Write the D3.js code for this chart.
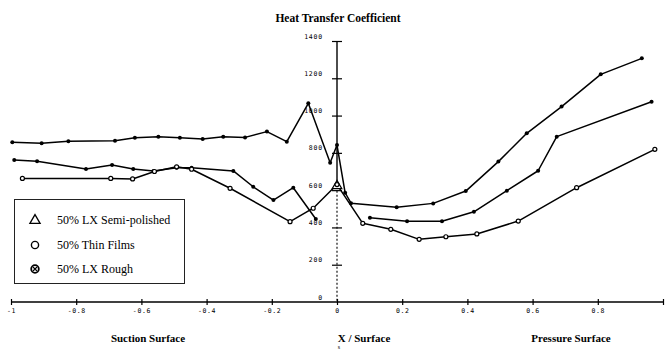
<!DOCTYPE html>
<html>
<head>
<meta charset="utf-8">
<script src="https://cdn.jsdelivr.net/npm/d3@7"></script>
<style>
  html, body { margin: 0; padding: 0; background: #fff; }
  svg { display: block; }
</style>
</head>
<body>
<svg id="chart" width="667" height="349"></svg>
<script>
// X / Surface positions (suction side negative, pressure side positive) and heat transfer coefficients
const roughX = [-0.996, -0.906, -0.824, -0.681, -0.620, -0.548, -0.482, -0.412, -0.349, -0.282, -0.215, -0.154, -0.088, -0.021, 0.0, 0.025, 0.043, 0.183, 0.295, 0.395, 0.495, 0.582, 0.689, 0.809, 0.935];
const roughV = [857, 851, 862, 865, 881, 887, 881, 874, 887, 883, 914, 860, 1066, 747, 842, 586, 530, 508, 529, 595, 753, 905, 1048, 1221, 1307];

// null entries break the line (no data around the leading edge)
const semiX = [-0.99, -0.92, -0.77, -0.69, -0.625, -0.563, -0.492, -0.446, -0.318, -0.257, -0.195, -0.134, -0.065, -0.03, 0.0, 0.05, 0.101, 0.215, 0.322, 0.420, 0.521, 0.617, 0.674, 0.965];
const semiV = [762, 755, 713, 735, 713, 703, 720, 720, 703, 618, 547, 613, 445, null, 628, null, 452, 433, 433, 484, 597, 704, 887, 1074];

const filmX = [-0.965, -0.694, -0.627, -0.56, -0.492, -0.446, -0.328, -0.144, -0.073, 0.0, 0.079, 0.165, 0.252, 0.334, 0.429, 0.556, 0.735, 0.975];
const filmV = [663, 663, 660, 700, 725, 712, 610, 431, 503, 630, 422, 390, 336, 350, 365, 434, 613, 819];

const xTicks = [-1, -0.8, -0.6, -0.4, -0.2, 0, 0.2, 0.4, 0.6, 0.8, 1];
const xTickLabels = ["-1", "-0.8", "-0.6", "-0.4", "-0.2", "0", "0.2", "0.4", "0.6", "0.8", ""];
const yTicks = [0, 200, 400, 600, 800, 1000, 1200, 1400];

const legendLabels = ["50% LX Semi-polished", "50% Thin Films", "50% LX Rough"];

const svg = d3.select("#chart");
const x = d3.scaleLinear().domain([-1, 1]).range([11, 663]);
const y = d3.scaleLinear().domain([0, 1400]).range([302, 41]);

const serif = "'Liberation Serif', 'Times New Roman', serif";
const small = "'DejaVu Sans Mono', 'Liberation Mono', monospace";

// title
svg.append("text")
  .attr("x", 338).attr("y", 22)
  .attr("text-anchor", "middle")
  .attr("font-family", serif).attr("font-weight", "bold").attr("font-size", 11.5)
  .text("Heat Transfer Coefficient");

// x axis
const xAxis = svg.append("g")
  .attr("transform", `translate(0,${y(0)})`)
  .call(d3.axisBottom(x).tickValues(xTicks).tickSize(3)
    .tickFormat((d, i) => xTickLabels[i]));
xAxis.select(".domain").remove();
xAxis.append("line").attr("x1", x(-1)).attr("x2", x(1)).attr("stroke", "#000").attr("stroke-width", 1.3);
xAxis.selectAll(".tick line").attr("y1", -3).attr("y2", 3).attr("stroke-width", 1.2);
xAxis.selectAll(".tick text")
  .attr("y", 11).attr("dy", null)
  .attr("font-family", small).attr("font-size", 6.5).attr("letter-spacing", 0.6)
  .attr("fill", "#000");

// y axis at X / Surface = 0
const yAxis = svg.append("g")
  .attr("transform", `translate(${x(0)},0)`)
  .call(d3.axisLeft(y).tickValues(yTicks).tickSize(5).tickFormat(d3.format("d")));
yAxis.select(".domain").remove();
yAxis.append("line").attr("y1", y(1400)).attr("y2", y(640)).attr("stroke", "#000").attr("stroke-width", 1.4);
yAxis.append("line").attr("y1", y(640)).attr("y2", y(0) + 1)
  .attr("stroke", "#000").attr("stroke-width", 1.1).attr("stroke-dasharray", "2,2");
yAxis.selectAll(".tick line").attr("x1", -5).attr("x2", 5).attr("stroke-width", 1.2)
  .filter(d => d === 0).remove();
yAxis.selectAll(".tick text")
  .attr("x", -14).attr("dy", null).attr("y", -3)
  .attr("font-family", small).attr("font-size", 6.5).attr("letter-spacing", 0.8)
  .attr("fill", "#000");

// data lines
const pts = (xs, vs) => xs.map((d, i) => ({ u: d, v: vs[i] }));
const line = d3.line().defined(d => d.v !== null).x(d => x(d.u)).y(d => y(d.v));

const series = [
  { data: pts(semiX, semiV), marker: "dot" },
  { data: pts(filmX, filmV), marker: "open" },
  { data: pts(roughX, roughV), marker: "dot" }
];

const plot = svg.append("g");
series.forEach(s => {
  plot.append("path").datum(s.data)
    .attr("d", line)
    .attr("fill", "none").attr("stroke", "#000").attr("stroke-width", 1.5)
    .attr("stroke-linejoin", "round");
});

// point markers
series.forEach((s, si) => {
  const valid = s.data.filter(d => d.v !== null);
  valid.forEach(d => {
    if (si === 0 && d.u === 0) {
      // semi-polished leading-edge point
      const cx = x(d.u), cy = y(d.v);
      plot.append("path")
        .attr("d", d3.symbol(d3.symbolTriangle, 40)())
        .attr("transform", `translate(${cx},${cy + 1})`)
        .attr("fill", "#fff").attr("stroke", "#000").attr("stroke-width", 1.2);
    } else if (s.marker === "open") {
      plot.append("circle").attr("cx", x(d.u)).attr("cy", y(d.v)).attr("r", 2)
        .attr("fill", "#fff").attr("stroke", "#000").attr("stroke-width", 1.2);
    } else {
      plot.append("circle").attr("cx", x(d.u)).attr("cy", y(d.v)).attr("r", 2)
        .attr("fill", "#000");
    }
  });
});

// legend
const lg = svg.append("g");
lg.append("rect").attr("x", 14.5).attr("y", 199.5).attr("width", 170).attr("height", 84)
  .attr("fill", "#fff").attr("stroke", "#222").attr("stroke-width", 1);
const rowY = [220, 245, 269];
legendLabels.forEach((t, i) => {
  lg.append("text").attr("x", 57).attr("y", rowY[i] + 4)
    .attr("font-family", serif).attr("font-size", 12).text(t);
});
lg.append("path").attr("d", d3.symbol(d3.symbolTriangle, 45)())
  .attr("transform", `translate(35,${rowY[0] + 0.5})`)
  .attr("fill", "none").attr("stroke", "#000").attr("stroke-width", 1.3);
lg.append("circle").attr("cx", 35).attr("cy", rowY[1]).attr("r", 3.6)
  .attr("fill", "none").attr("stroke", "#000").attr("stroke-width", 1.4);
lg.append("circle").attr("cx", 35).attr("cy", rowY[2]).attr("r", 3.8)
  .attr("fill", "none").attr("stroke", "#000").attr("stroke-width", 1.8);
lg.append("path").attr("d", `M33,${rowY[2] - 2}L37,${rowY[2] + 2}M37,${rowY[2] - 2}L33,${rowY[2] + 2}`)
  .attr("stroke", "#000").attr("stroke-width", 1.1);

// bottom captions
const cap = [
  { t: "Suction Surface", x: 148 },
  { t: "X / Surface", x: 364 },
  { t: "Pressure Surface", x: 571 }
];
cap.forEach(c => {
  svg.append("text").attr("x", c.x).attr("y", 342)
    .attr("text-anchor", "middle")
    .attr("font-family", serif).attr("font-weight", "bold").attr("font-size", 11)
    .text(c.t);
});
svg.append("text").attr("x", 339).attr("y", 348.5).attr("text-anchor", "middle")
  .attr("font-family", serif).attr("font-size", 6).text("s");
</script>
</body>
</html>
